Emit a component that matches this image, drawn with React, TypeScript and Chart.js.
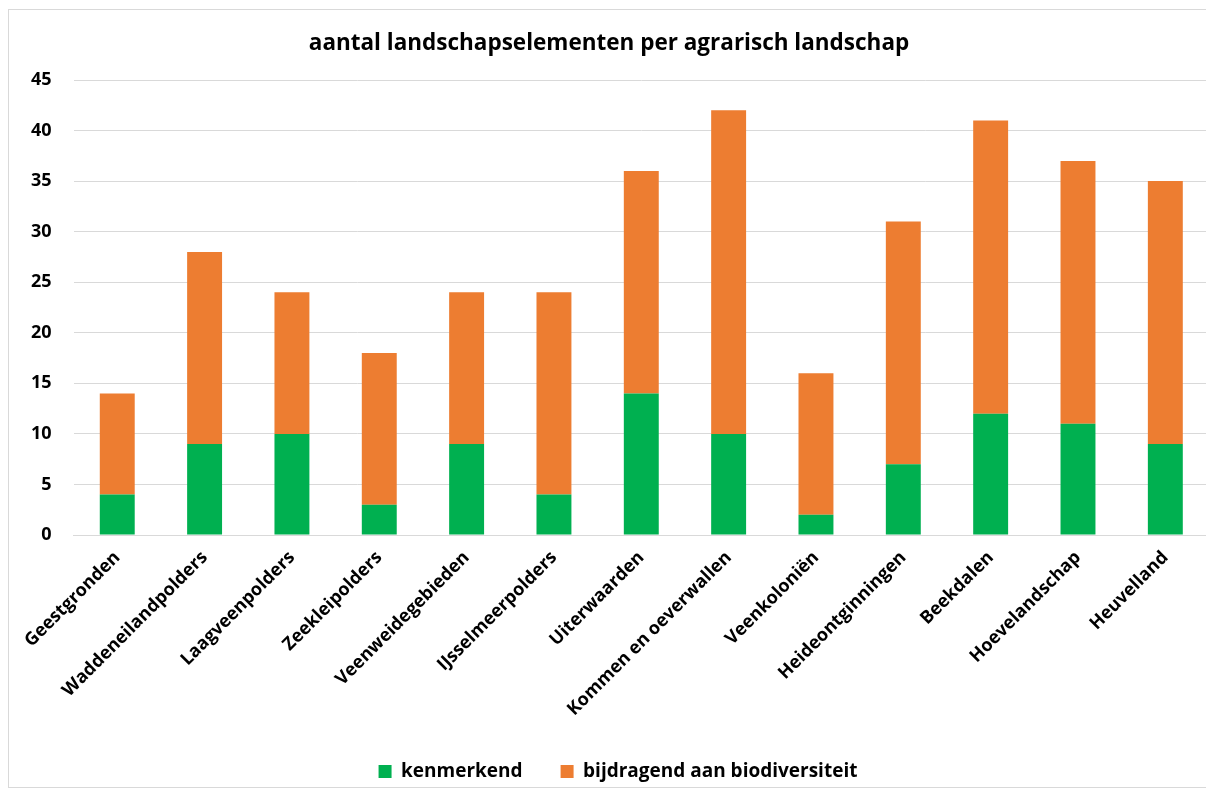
import React, { useEffect, useRef } from "react";
import { Chart, registerables } from "chart.js";

Chart.register(...registerables);

const categories = [
  "Geestgronden",
  "Waddeneilandpolders",
  "Laagveenpolders",
  "Zeekleipolders",
  "Veenweidegebieden",
  "IJsselmeerpolders",
  "Uiterwaarden",
  "Kommen en oeverwallen",
  "Veenkoloniën",
  "Heideontginningen",
  "Beekdalen",
  "Hoevelandschap",
  "Heuvelland",
];

const kenmerkend = [4, 9, 10, 3, 9, 4, 14, 10, 2, 7, 12, 11, 9];
const bijdragend = [10, 19, 14, 15, 15, 20, 22, 32, 14, 24, 29, 26, 26];

const seriesNames = ["kenmerkend", "bijdragend aan biodiversiteit"];
const titleText = "aantal landschapselementen per agrarisch landschap";

const FONT = "'Open Sans', 'Noto Sans', sans-serif";

const legendHeightPlugin = {
  id: "legendHeight",
  beforeInit(chart: any) {
    const lg = chart.legend;
    if (!lg) return;
    const origFit = lg.fit;
    lg.fit = function () {
      origFit.call(this);
      this.height = 63;
    };
    const origDraw = lg.draw;
    lg.draw = function () {
      const ctx = this.ctx;
      ctx.save();
      ctx.translate(9, 0);
      origDraw.call(this);
      ctx.restore();
    };
  },
};

export default function App() {
  const ref = useRef<HTMLCanvasElement | null>(null);

  useEffect(() => {
    if (!ref.current) return;
    const chart = new Chart(ref.current, {
      type: "bar",
      data: {
        labels: categories,
        datasets: [
          {
            label: seriesNames[0],
            data: kenmerkend,
            backgroundColor: "#00B050",
            barPercentage: 0.4,
            categoryPercentage: 1,
          },
          {
            label: seriesNames[1],
            data: bijdragend,
            backgroundColor: "#ED7D31",
            barPercentage: 0.4,
            categoryPercentage: 1,
          },
        ],
      },
      plugins: [legendHeightPlugin],
      options: {
        animation: false,
        responsive: false,
        maintainAspectRatio: false,
        layout: { padding: { left: 0, right: 4, top: 10, bottom: 0 } },
        plugins: {
          title: {
            display: true,
            text: titleText,
            color: "#000",
            font: { family: FONT, size: 22.5, weight: "bold" },
            padding: { top: 10, bottom: 23 },
          },
          legend: {
            position: "bottom",
            labels: {
              color: "#000",
              boxWidth: 13,
              boxHeight: 13,
              padding: 38,
              font: { family: FONT, size: 19, weight: "bold" },
            },
          },
          tooltip: { enabled: false },
        },
        scales: {
          x: {
            stacked: true,
            grid: { display: false },
            border: { color: "#d9d9d9", width: 1 },
            afterFit(scale: any) {
              scale.height = 189;
            },
            ticks: {
              color: "#000",
              maxRotation: 45,
              minRotation: 45,
              padding: 4,
              font: { family: FONT, size: 18, weight: "bold" },
            },
          },
          y: {
            stacked: true,
            min: 0,
            max: 45,
            grid: { color: "#d9d9d9", drawTicks: false },
            border: { display: false },
            ticks: {
              stepSize: 5,
              color: "#000",
              padding: 22,
              font: { family: FONT, size: 18, weight: "bold" },
            },
          },
        },
      },
    });
    return () => chart.destroy();
  }, []);

  return (
    <div
      style={{
        width: 1204,
        height: 777,
        border: "1px solid #d9d9d9",
        marginTop: 1,
        background: "#fff",
      }}
    >
      <canvas ref={ref} width={1204} height={777} style={{ display: "block" }} />
    </div>
  );
}
